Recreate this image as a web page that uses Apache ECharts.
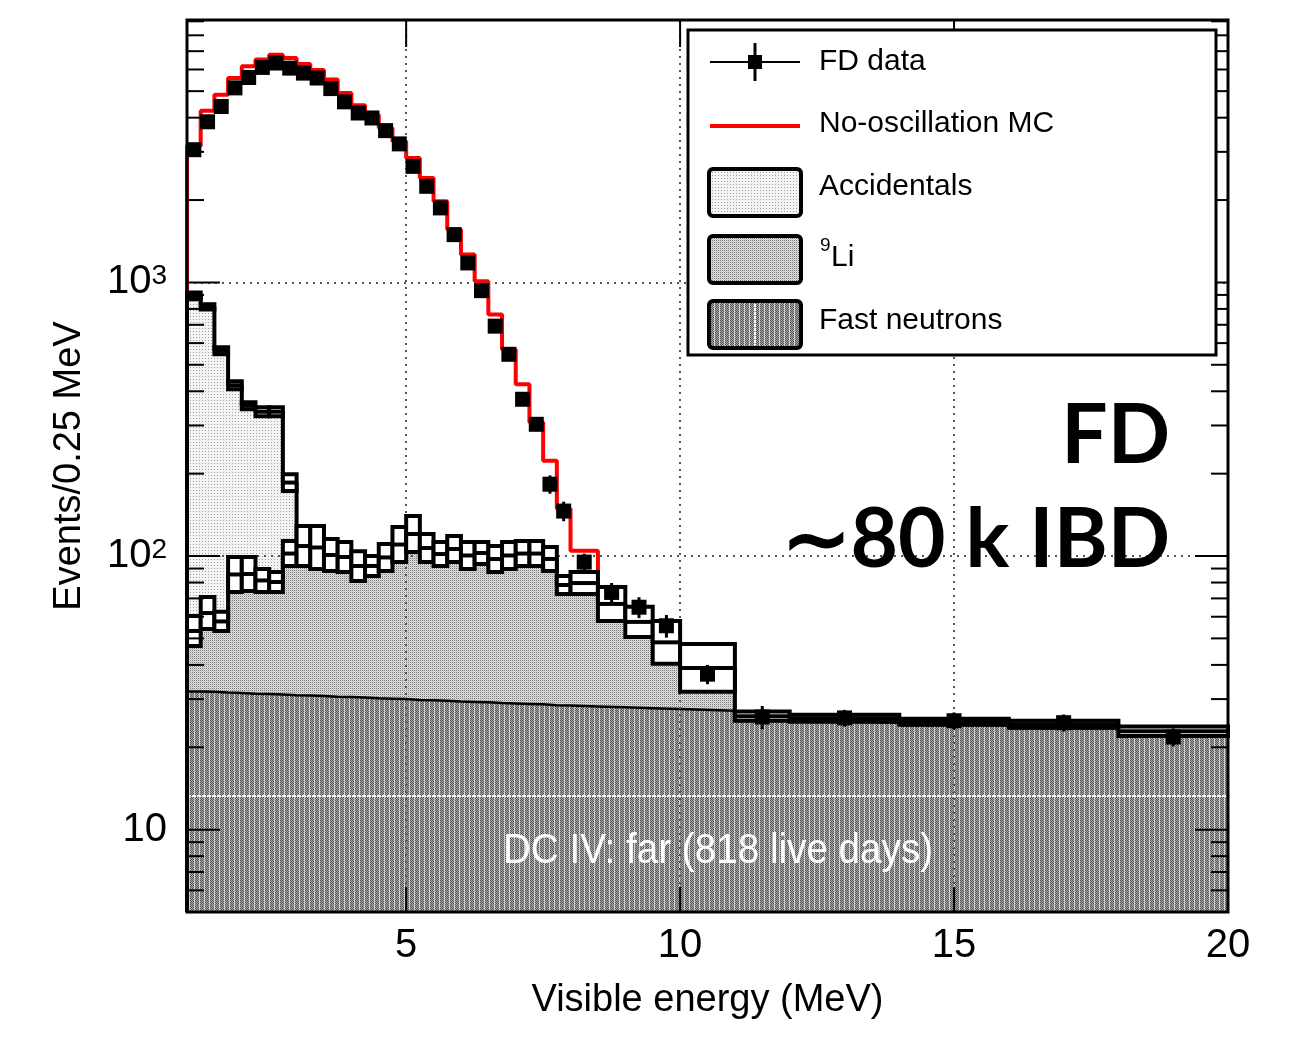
<!DOCTYPE html>
<html><head><meta charset="utf-8">
<script src="https://cdn.jsdelivr.net/npm/echarts@6/dist/echarts.min.js"></script>
<style>html,body{margin:0;padding:0;background:#fff}#c{width:1307px;height:1037px}</style>
</head><body><div id="c"></div>
<script>
// ---------------- data ----------------
const binEdges = [1.00,1.25,1.50,1.75,2.00,2.25,2.50,2.75,3.00,3.25,3.50,3.75,4.00,4.25,4.50,4.75,5.00,5.25,5.50,5.75,6.00,6.25,6.50,6.75,7.00,7.25,7.50,7.75,8.00,8.50,9.00,9.50,10.00,11.00,12.00,14.00,16.00,18.00,20.00];
const fdData = [3055,3864,4395,5140,5610,6105,6335,6070,5820,5585,5110,4570,4160,3990,3587,3208,2655,2245,1872,1495,1178,933,692,546,374,303,183,146,95,73.6,65,55.6,37,25.8,25.6,25.0,24.6,21.8];
const fdErr = [55,62,66,72,75,78,80,78,76,75,71,68,64,63,60,57,52,47,43,39,34,31,26,23,19,17,14,12,7,6.1,5.7,5.3,3.0,2.5,1.8,1.8,1.75,1.65];
const noOscMC = [3150,4240,4850,5585,6160,6520,6790,6610,6280,5980,5510,4920,4440,4100,3670,3280,2850,2410,1980,1560,1265,1010,764,569,424,308,223,149,104.5,74];
const fastN = [32.0,31.9,31.7,31.6,31.4,31.3,31.2,31.0,30.9,30.8,30.6,30.5,30.4,30.2,30.1,30.0,29.8,29.7,29.6,29.4,29.3,29.2,29.0,28.9,28.8,28.7,28.5,28.4,28.2,28.0,27.8,27.6,27.2,25.0,24.6,24.0,23.4,22.2];
const lithium9 = [21.2,30.0,26.0,54.0,54.6,50.1,49.2,71.1,73.9,73.6,67.7,66.7,59.5,60.3,67.2,78.7,89.4,76.1,71.1,75.7,70.2,72.4,67.7,70.8,72.5,72.6,68.5,49.4,50.9,38.3,29.1,20.3,11.4,0.8,0.7,0.7,0.8,0.6];
const accidentals = [840,752,504,335,268,256,257,84,4,3,2.5,2,2,1.5,1.5,1.5,1.2,1.2,1,1,1,1,0.8,0.8,0.8,0.8,0.6,0.6,0.6,0.5,0.5,0.5,0.4,0.2,0.2,0.1,0.1,0.1];
const bkgBandLo = [46.9,54.1,53.2,73.9,74.5,73.9,73.9,91.9,91.9,89.7,88.2,87.4,81.1,84.6,88.2,95.1,103.5,95.1,91.9,95.1,89.7,93.5,87.4,89.7,91.9,91.9,88.2,72.6,72.6,57.9,50.6,40.4,31.9,25.0,24.8,24.2,23.6,22.0];
const bkgBandHi = [60.4,70.8,62.5,99.2,99.2,89.7,87.4,113.4,128.7,128.7,115.3,112.5,104.2,100,110.7,127.6,140,120.3,112.5,118.3,112.5,112.5,108.7,112.5,113.4,113.4,107.9,84.6,87.4,77.1,65.2,57.9,47.7,27.0,26.3,25.4,25.0,23.8];
const accBandLo = [867,796,546,407,344,324,324,173];
const accBandHi = [919,832,579,435,365,350,350,199];
const xTickLabels = [5,10,15,20];
const xMajorTicks = [5,10,15];
const yTickLabels = [10,100,1000];
const yMajorTicks = [10,100,1000];
const yMinorTicks = [5,6,7,8,9,20,30,40,50,60,70,80,90,200,300,400,500,600,700,800,900,2000,3000,4000,5000,6000,7000,8000,9000];

// ---------------- helpers ----------------
const X_MIN = 1, X_MAX = 20, Y_MIN = 5, Y_MAX = 9100;
const FONT = '"Liberation Sans", Arial, Helvetica, sans-serif';
function makePattern(w, h, painter) {
  const c = document.createElement('canvas'); c.width = w; c.height = h;
  const g = c.getContext('2d'); painter(g); return c;
}
const accCanvas = makePattern(3, 3, g => { g.fillStyle = '#f4f4f4'; g.fillRect(0,0,3,3); g.fillStyle = '#a0a0a0'; g.fillRect(1,1,1,1); });
const li9Canvas = makePattern(2, 2, g => {
  g.fillStyle = '#dedede'; g.fillRect(0,0,2,2);
  g.fillStyle = '#7c7c7c'; g.fillRect(0,0,1,1);
  g.fillStyle = '#c4c4c4'; g.fillRect(1,1,1,1);
});
const fnCanvas = makePattern(5, 2, g => {
  for (let x = 0; x < 4; x++) for (let y = 0; y < 2; y++) { g.fillStyle = ((x + y) % 2) ? '#aaaaaa' : '#545454'; g.fillRect(x, y, 1, 1); }
  g.fillStyle = '#d0d0d0'; g.fillRect(4, 0, 1, 2);
});
const accPat = { image: accCanvas, repeat: 'repeat' };
const li9Pat = { image: li9Canvas, repeat: 'repeat' };
const fnPat = { image: fnCanvas, repeat: 'repeat' };

function stepPoints(edges, vals, n) {
  const pts = [];
  for (let i = 0; i < n; i++) { pts.push([edges[i], vals[i]]); pts.push([edges[i + 1], vals[i]]); }
  return pts;
}
const nb = fdData.length;
const fnLi = fastN.map((v, i) => v + lithium9[i]);
const total = fnLi.map((v, i) => v + accidentals[i]);

const boxData = [];
for (let i = 0; i < nb; i++) boxData.push([binEdges[i], binEdges[i + 1], bkgBandLo[i], bkgBandHi[i]]);
for (let i = 0; i < accBandLo.length; i++) boxData.push([binEdges[i], binEdges[i + 1], accBandLo[i], accBandHi[i]]);
const pointData = fdData.map((v, i) => [(binEdges[i] + binEdges[i + 1]) / 2, v, fdErr[i]]);

const chart = echarts.init(document.getElementById('c'), null, { renderer: 'canvas' });
chart.setOption({
  animation: false,
  backgroundColor: '#fff',
  grid: { left: 187, top: 20, right: 79, bottom: 125, show: false },
  xAxis: {
    type: 'value', min: X_MIN, max: X_MAX,
    axisLine: { show: false }, axisTick: { show: false }, splitLine: { show: false },
    axisLabel: { customValues: xTickLabels, fontSize: 40, fontFamily: FONT, color: '#000', margin: 14 },
    name: 'Visible energy (MeV)', nameLocation: 'middle', nameGap: 70,
    nameTextStyle: { fontSize: 38, fontFamily: FONT, color: '#000' }
  },
  yAxis: {
    type: 'log', logBase: 10, min: Y_MIN, max: Y_MAX,
    axisLine: { show: false }, axisTick: { show: false }, splitLine: { show: false },
    axisLabel: {
      customValues: yTickLabels, margin: 20,
      formatter: function (v) { const e = Math.round(Math.log10(v)); return e === 1 ? '{b|10}' : '{b|10}{s|' + e + '}'; },
      rich: { b: { fontSize: 40, fontFamily: FONT, color: '#000', lineHeight: 40 }, s: { fontSize: 28, fontFamily: FONT, color: '#000', verticalAlign: 'top', lineHeight: 28 } }
    },
    name: 'Events/0.25 MeV', nameLocation: 'middle', nameGap: 98, nameRotate: 90,
    nameTextStyle: { fontSize: 38, fontFamily: FONT, color: '#000' }
  },
  series: [
    { // grid lines
      type: 'line', z: 1, data: [[X_MIN, Y_MIN]], showSymbol: false, lineStyle: { width: 0 }, silent: true,
      markLine: { silent: true, symbol: 'none', label: { show: false }, animation: false,
        lineStyle: { color: '#555', width: 2, type: [2, 5] },
        data: [{ xAxis: 5 }, { xAxis: 10 }, { xAxis: 15 }, { yAxis: 100 }, { yAxis: 1000 }] }
    },
    { name: 'Accidentals', type: 'line', z: 2, data: stepPoints(binEdges, total, nb), showSymbol: false, silent: true,
      lineStyle: { width: 0 }, areaStyle: { color: accPat, opacity: 1, origin: 'start' } },
    { name: '9Li', type: 'line', z: 2, data: stepPoints(binEdges, fnLi, nb), showSymbol: false, silent: true,
      lineStyle: { width: 0 }, areaStyle: { color: li9Pat, opacity: 1, origin: 'start' } },
    { name: 'Fast neutrons', type: 'line', z: 2, data: stepPoints(binEdges, fastN, nb), showSymbol: false, silent: true,
      lineStyle: { width: 2.5, color: '#000' }, areaStyle: { color: fnPat, opacity: 1, origin: 'start' } },
    { // white artefact line in fast-neutron area
      type: 'line', z: 3, data: [[X_MIN, Y_MIN]], showSymbol: false, lineStyle: { width: 0 }, silent: true,
      markLine: { silent: true, symbol: 'none', label: { show: false }, animation: false,
        lineStyle: { color: '#fff', width: 2, type: [4, 1], opacity: 0.9 }, data: [{ yAxis: 13.3 }] }
    },
    { name: 'No-oscillation MC', type: 'line', z: 4, data: [[X_MIN, Y_MIN]].concat(stepPoints(binEdges, noOscMC, noOscMC.length)),
      showSymbol: false, silent: true, lineStyle: { width: 4, color: '#ff0000' } },
    { type: 'line', z: 5, data: [[X_MIN, Y_MIN]].concat(stepPoints(binEdges, total, nb)), showSymbol: false, silent: true,
      lineStyle: { width: 4, color: '#000' } },
    { type: 'line', z: 5, data: stepPoints(binEdges, fnLi, accBandLo.length), showSymbol: false, silent: true,
      lineStyle: { width: 4, color: '#000' } },
    { type: 'custom', z: 6, silent: true, data: boxData, encode: { x: [0, 1], y: [2, 3] },
      renderItem: function (params, api) {
        const a = api.coord([api.value(0), api.value(3)]);
        const b = api.coord([api.value(1), api.value(2)]);
        const x = a[0], y = a[1], w = b[0] - a[0], h = b[1] - a[1];
        return { type: 'group', children: [
          { type: 'rect', shape: { x: x, y: y, width: w, height: h }, style: { fill: '#fff', stroke: '#000', lineWidth: 4 } },
          { type: 'line', shape: { x1: x, y1: y + h / 2, x2: x + w, y2: y + h / 2 }, style: { stroke: '#000', lineWidth: 4 } }
        ] };
      } },
    { name: 'FD data', type: 'custom', z: 7, silent: true, data: pointData, encode: { x: 0, y: 1 },
      renderItem: function (params, api) {
        const xv = api.value(0), v = api.value(1), e = api.value(2);
        const c = api.coord([xv, v]), hi = api.coord([xv, v + e]), lo = api.coord([xv, v - e]);
        return { type: 'group', children: [
          { type: 'line', shape: { x1: c[0], y1: hi[1], x2: c[0], y2: lo[1] }, style: { stroke: '#000', lineWidth: 3 } },
          { type: 'rect', shape: { x: c[0] - 7.5, y: c[1] - 7.5, width: 15, height: 15 }, style: { fill: '#000' } }
        ] };
      } },
    { type: 'custom', z: 8, silent: true, clip: false,
      data: yMinorTicks.map(v => [v, 0, X_MIN]).concat(yMajorTicks.map(v => [v, 1, X_MIN])), encode: { x: 2, y: 0 },
      renderItem: function (params, api) {
        const v = api.value(0), L = api.value(1) ? 33 : 17;
        const p = api.coord([X_MIN, v]), q = api.coord([X_MAX, v]);
        return { type: 'group', children: [
          { type: 'line', shape: { x1: p[0], y1: p[1], x2: p[0] + L, y2: p[1] }, style: { stroke: '#000', lineWidth: 2 } },
          { type: 'line', shape: { x1: q[0], y1: q[1], x2: q[0] - L, y2: q[1] }, style: { stroke: '#000', lineWidth: 2 } }
        ] };
      } },
    { type: 'custom', z: 8, silent: true, clip: false,
      data: xMajorTicks.map(v => [v, Y_MIN]), encode: { x: 0, y: 1 },
      renderItem: function (params, api) {
        const v = api.value(0);
        const p = api.coord([v, Y_MIN]), q = api.coord([v, Y_MAX]);
        return { type: 'group', children: [
          { type: 'line', shape: { x1: p[0], y1: p[1], x2: p[0], y2: p[1] - 25 }, style: { stroke: '#000', lineWidth: 2 } },
          { type: 'line', shape: { x1: q[0], y1: q[1], x2: q[0], y2: q[1] + 27 }, style: { stroke: '#000', lineWidth: 2 } }
        ] };
      } }
  ],
  graphic: [
    { type: 'rect', z: 99, silent: true, shape: { x: 187, y: 20, width: 1041, height: 892 }, style: { fill: 'none', stroke: '#000', lineWidth: 3 } },
    { type: 'text', z: 99, silent: true, x: 718, y: 851, scaleX: 0.92,
      style: { text: 'DC IV: far (818 live days)', fontSize: 42, fontFamily: FONT, fill: '#fff', align: 'center', verticalAlign: 'middle' } },
    { type: 'text', z: 99, silent: true, x: 1170, y: 437,
      style: { text: 'FD', fontSize: 82, fontWeight: 'bold', fontFamily: 'Lato, "Open Sans", sans-serif', fill: '#000', align: 'right', verticalAlign: 'middle' } },
    { type: 'text', z: 99, silent: true, x: 1170, y: 541,
      style: { text: '\u223C80 k IBD', fontSize: 82, fontWeight: 'bold', fontFamily: 'Lato, "Open Sans", sans-serif', fill: '#000', align: 'right', verticalAlign: 'middle' } },
    // legend
    { type: 'rect', z: 100, silent: true, shape: { x: 688, y: 30, width: 528, height: 325 }, style: { fill: '#fff', stroke: '#000', lineWidth: 3 } },
    { type: 'line', z: 101, silent: true, shape: { x1: 710, y1: 62, x2: 800, y2: 62 }, style: { stroke: '#000', lineWidth: 2 } },
    { type: 'line', z: 101, silent: true, shape: { x1: 755, y1: 43, x2: 755, y2: 81 }, style: { stroke: '#000', lineWidth: 3 } },
    { type: 'rect', z: 101, silent: true, shape: { x: 748, y: 55, width: 14, height: 14 }, style: { fill: '#000' } },
    { type: 'line', z: 101, silent: true, shape: { x1: 710, y1: 126, x2: 800, y2: 126 }, style: { stroke: '#ff0000', lineWidth: 4 } },
    { type: 'rect', z: 101, silent: true, shape: { x: 709, y: 169, width: 92, height: 47, r: 4 }, style: { fill: accPat, stroke: '#000', lineWidth: 4 } },
    { type: 'rect', z: 101, silent: true, shape: { x: 709, y: 236, width: 92, height: 47, r: 4 }, style: { fill: li9Pat, stroke: '#000', lineWidth: 4 } },
    { type: 'rect', z: 101, silent: true, shape: { x: 709, y: 301, width: 92, height: 47, r: 4 }, style: { fill: fnPat, stroke: '#000', lineWidth: 4 } },
    { type: 'line', z: 102, silent: true, shape: { x1: 755, y1: 304, x2: 755, y2: 345 }, style: { stroke: '#fff', lineWidth: 2, lineDash: [3, 1] } },
    { type: 'text', z: 101, silent: true, x: 819, y: 62, style: { text: 'FD data', fontSize: 30, fontFamily: FONT, fill: '#000', verticalAlign: 'middle' } },
    { type: 'text', z: 101, silent: true, x: 819, y: 124, style: { text: 'No-oscillation MC', fontSize: 30, fontFamily: FONT, fill: '#000', verticalAlign: 'middle' } },
    { type: 'text', z: 101, silent: true, x: 819, y: 187, style: { text: 'Accidentals', fontSize: 30, fontFamily: FONT, fill: '#000', verticalAlign: 'middle' } },
    { type: 'text', z: 101, silent: true, x: 820, y: 246, style: { text: '9', fontSize: 19, fontFamily: FONT, fill: '#000', verticalAlign: 'middle' } },
    { type: 'text', z: 101, silent: true, x: 831, y: 258, style: { text: 'Li', fontSize: 30, fontFamily: FONT, fill: '#000', verticalAlign: 'middle' } },
    { type: 'text', z: 101, silent: true, x: 819, y: 321, style: { text: 'Fast neutrons', fontSize: 30, fontFamily: FONT, fill: '#000', verticalAlign: 'middle' } }
  ]
});
</script>
</body></html>
